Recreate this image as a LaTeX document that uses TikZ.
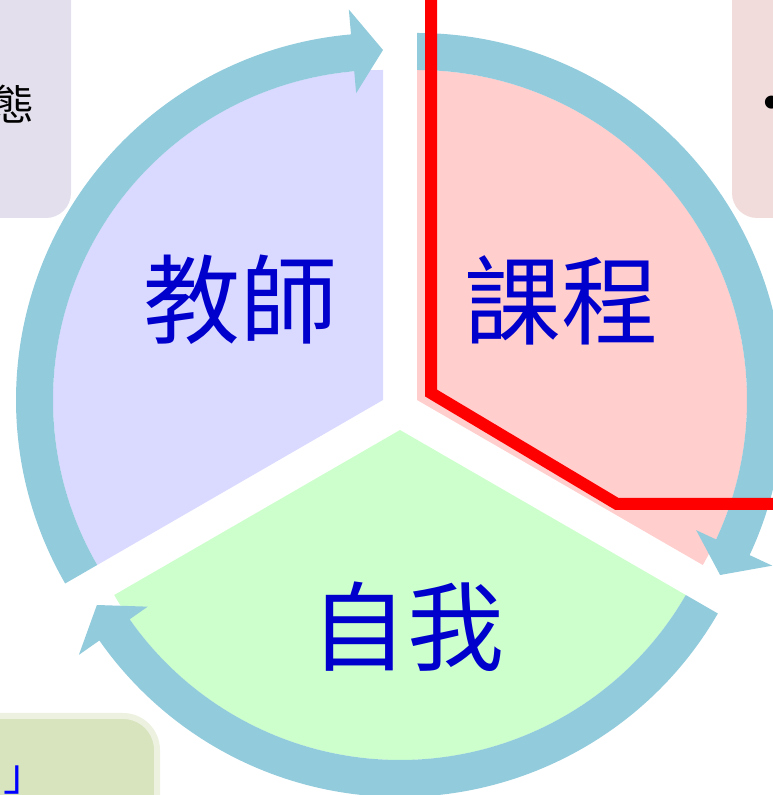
\documentclass[tikz,border=0pt]{standalone}
\usepackage{fontspec}
\newfontfamily\cjk{Noto Sans CJK TC}
\newfontfamily\bulletfont{Liberation Sans}
\definecolor{purplefill}{RGB}{218,217,255}
\definecolor{pinkfill}{RGB}{255,206,205}
\definecolor{greenfill}{RGB}{204,255,204}
\definecolor{bandblue}{RGB}{146,203,220}
\definecolor{textblue}{RGB}{0,0,204}
\definecolor{boxlav}{RGB}{228,223,236}
\definecolor{boxpink}{RGB}{242,220,219}
\definecolor{boxgreen}{RGB}{215,228,189}
\definecolor{boxgreenedge}{RGB}{236,241,224}
\newcommand{\cyclearrow}[3]{%
  \fill[bandblue, shift={(#1)}] (#2:367) arc[start angle=#2, end angle=#3+5, radius=367]
    -- (#3+5:392) -- (#3:350) -- (#3+5:308) -- (#3+5:330)
    arc[start angle=#3+5, end angle=#2, radius=330] -- cycle;}
\begin{document}
\begin{tikzpicture}[x=1pt,y=1pt,
  bigtext/.style={font=\cjk\fontsize{97}{100}\selectfont, text=textblue, inner sep=0pt},
  smalltext/.style={font=\cjk\fontsize{42}{46}\selectfont, inner sep=0pt}]
\useasboundingbox (0,0) rectangle (773,795);
\begin{scope}
\clip (0,0) rectangle (773,795);
% side boxes
\fill[boxlav, rounded corners=25] (-40,577) rectangle (71,840);
\fill[boxpink, rounded corners=25] (732,577) rectangle (830,840);
\draw[boxgreenedge, fill=boxgreen, line width=6, rounded corners=34] (-40,-40) rectangle (157,79);
% sector centres
\coordinate (pc) at (383,395);
\coordinate (kc) at (417,395);
\coordinate (gc) at (400,365);
% sectors
\fill[purplefill] (pc) -- ++(90:330) arc[start angle=90, end angle=210, radius=330] -- cycle;
\fill[pinkfill] (kc) -- ++(-30:330) arc[start angle=-30, end angle=90, radius=330] -- cycle;
\fill[greenfill] (gc) -- ++(210:330) arc[start angle=210, end angle=330, radius=330] -- cycle;
% arrows
\cyclearrow{pc}{210}{90}
\cyclearrow{kc}{90}{-30}
\cyclearrow{gc}{-30}{-150}
% texts
\node[bigtext] (teacher) at (240,495) {教師};
\node[bigtext] (course) at (561,495) {課程};
\node[bigtext] (self) at (407,168) {自我};
\node[smalltext, anchor=east] (tai) at (35,691) {態};
\node[font=\bulletfont\fontsize{48}{50}\selectfont, inner sep=0pt] (dot) at (772,688) {•};
\node[font=\cjk\fontsize{44}{48}\selectfont, text=blue, inner sep=0pt, anchor=west] (bracket) at (3,15) {」};
% red line
\coordinate (r0) at (431,805);
\coordinate (r1) at (431,402);
\coordinate (r2) at (617,291);
\coordinate (r3) at (790,291);
\draw[red, line width=12, line join=miter] (r0) -- (r1) -- (r2) -- (r3);
\end{scope}
\end{tikzpicture}
\end{document}
